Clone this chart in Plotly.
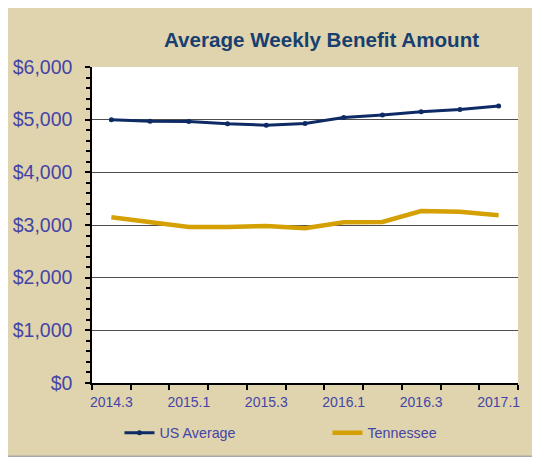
import plotly.graph_objects as go

quarters = ["2014.3", "2014.4", "2015.1", "2015.2", "2015.3", "2015.4",
            "2016.1", "2016.2", "2016.3", "2016.4", "2017.1"]
us_average = [4997, 4972, 4965, 4921, 4896, 4927, 5041, 5087, 5149, 5193, 5258]
tennessee = [3146, 3044, 2962, 2962, 2981, 2937, 3051, 3057, 3266, 3253, 3184]
y_ticks = [0, 1000, 2000, 3000, 4000, 5000, 6000]

# page is offset by the default 8px body margin
OFF = 8
W, H = 532, 449
# plot area in page pixels
PL, PR, PT, PB = 91.5, 518, 67.3, 382.7
L, T = PL - OFF, PT - OFF
R, B = W - (PR - OFF), H - (PB - OFF)
pw, ph = W - L - R, H - T - B

def px(x):
    return (x - OFF - L) / pw

def py(y):
    return (H - B - (y - OFF)) / ph

idx = list(range(len(quarters)))
label_idx = idx[::2]

BEIGE = "#E0D4AE"
NAVY = "#0E2B66"
GOLD = "#D4A003"
TICKC = "#4444A6"
TITLEC = "#173F70"

fig = go.Figure()
fig.add_trace(go.Scatter(x=idx, y=us_average, name="US Average", mode="lines+markers",
                         line=dict(color=NAVY, width=3), marker=dict(size=5, color=NAVY)))
fig.add_trace(go.Scatter(x=idx, y=tennessee, name="Tennessee", mode="lines",
                         line=dict(color=GOLD, width=4.5)))

fig.update_layout(
    width=W, height=H,
    margin=dict(l=L, r=R, t=T, b=B, autoexpand=False),
    paper_bgcolor="white",
    plot_bgcolor="white",
    font=dict(family="Liberation Sans, Arial, sans-serif", color=TICKC),
    showlegend=True,
    legend=dict(orientation="h", x=px(119), xanchor="left", y=py(432.5), yanchor="middle",
                font=dict(size=14.3, color=TICKC), bgcolor="rgba(0,0,0,0)",
                entrywidth=163, entrywidthmode="pixels", itemwidth=30),
    xaxis=dict(range=[-0.5, len(quarters) - 0.5], tickmode="array", tickvals=label_idx,
               ticktext=[quarters[i] for i in label_idx], ticks="", showgrid=False,
               zeroline=False, showline=True, linecolor="black", linewidth=1.5,
               tickfont=dict(size=14, color=TICKC), ticklabelstandoff=5,
               minor=dict(tickmode="linear", tick0=-0.5, dtick=1, ticks="outside",
                          ticklen=5, tickcolor="black", tickwidth=1.5, showgrid=False)),
    yaxis=dict(range=[0, 6000], tickmode="array", tickvals=y_ticks,
               ticktext=["${:,}".format(v) for v in y_ticks],
               showgrid=True, gridcolor="#4d4d4d", gridwidth=1, zeroline=False,
               showline=True, linecolor="black", linewidth=1.5,
               ticks="outside", ticklen=5, tickcolor="black", tickwidth=1.5,
               ticklabelstandoff=9, tickfont=dict(size=19.5, color=TICKC),
               minor=dict(tickmode="linear", tick0=0, dtick=200, ticks="outside",
                          ticklen=4, tickcolor="black", tickwidth=1.5, showgrid=False)),
    shapes=[
        dict(type="rect", xref="paper", yref="paper", layer="below",
             x0=px(6), x1=px(548), y0=py(458), y1=py(9),
             fillcolor="#A8A8A8", line=dict(width=0)),
        dict(type="rect", xref="paper", yref="paper", layer="below",
             x0=px(4), x1=px(548), y0=py(455), y1=py(7),
             fillcolor=BEIGE, line=dict(width=0)),
        dict(type="rect", xref="paper", yref="paper", layer="below",
             x0=0, x1=1, y0=0, y1=1, fillcolor="white", line=dict(width=0)),
    ],
    annotations=[dict(text="<b>Average Weekly Benefit Amount</b>", xref="paper", yref="paper",
                      x=px(321.5), y=py(40), xanchor="center", yanchor="middle", showarrow=False,
                      font=dict(size=20.6, color=TITLEC))],
)

fig.write_html("out.html")
